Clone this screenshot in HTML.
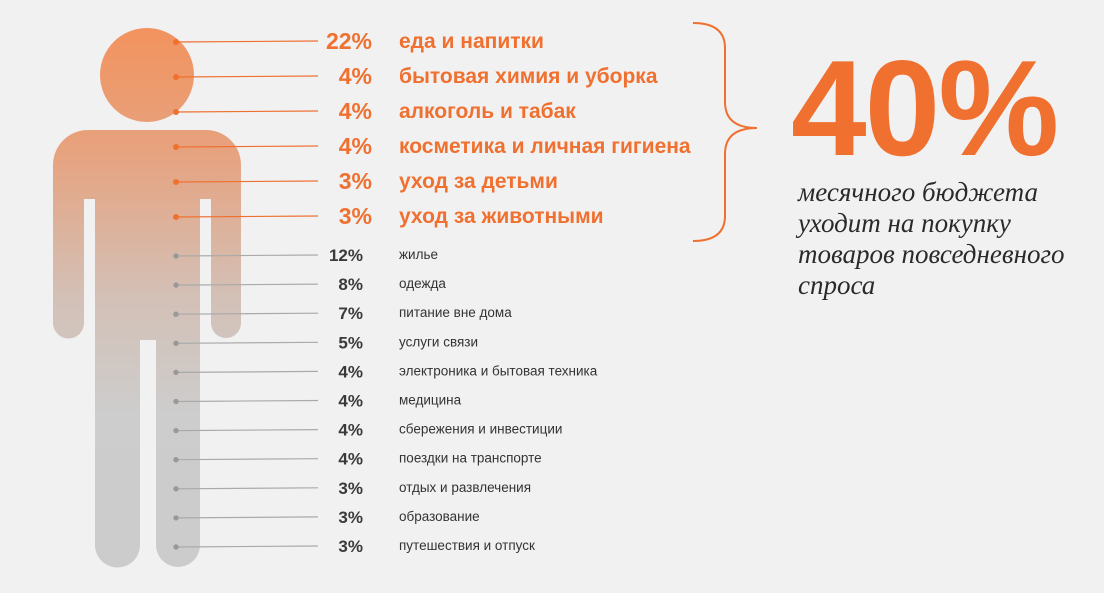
<!DOCTYPE html>
<html><head><meta charset="utf-8"><style>
html,body{margin:0;padding:0;background:#f1f1f1;width:1104px;height:593px;overflow:hidden}
svg{display:block}
</style></head><body>
<svg id="chart" width="1104" height="593" viewBox="0 0 1104 593" xmlns="http://www.w3.org/2000/svg">
<defs>
<linearGradient id="fig" x1="0" y1="0" x2="0" y2="593" gradientUnits="userSpaceOnUse">
<stop offset="0.05" stop-color="#f2935f"/>
<stop offset="0.25" stop-color="#e7a27e"/>
<stop offset="0.5" stop-color="#d3c0b6"/>
<stop offset="0.7" stop-color="#cdcdcd"/>
<stop offset="1" stop-color="#cbcbcb"/>
</linearGradient>
</defs>
<g fill="url(#fig)">
<circle cx="147" cy="75" r="47"/>
<path d="M88,130 H206 A35,35 0 0 1 241,165 V323 A15,15 0 0 1 211,323 V199 H200 V545 A22,22 0 0 1 156,545 V340 H140 V545 A22,22 0 0 1 95,545 V199 H84 V323 A15.5,15.5 0 0 1 53,323 V165 A35,35 0 0 1 88,130 Z"/>
</g>
<g id="rows"></g>
<path d="M693,23 Q725,23 725,48 V102 Q725,128 757,128 Q725,128 725,154 V216 Q725,241 693,241" fill="none" stroke="#f07030" stroke-width="2"/>
<text x="791" y="155" font-family="Liberation Sans, sans-serif" font-weight="bold" font-size="136" letter-spacing="-2" fill="#f07030">40%</text>
<g font-family="Liberation Serif, serif" font-style="italic" font-size="27" fill="#2a2a2a">
<text x="798" y="201">месячного бюджета</text>
<text x="798" y="232">уходит на покупку</text>
<text x="798" y="263">товаров повседневного</text>
<text x="798" y="294">спроса</text>
</g>
</svg>
<script>
const values = [22,4,4,4,3,3,12,8,7,5,4,4,4,4,3,3,3];
const categories = ["еда и напитки","бытовая химия и уборка","алкоголь и табак","косметика и личная гигиена","уход за детьми","уход за животными","жилье","одежда","питание вне дома","услуги связи","электроника и бытовая техника","медицина","сбережения и инвестиции","поездки на транспорте","отдых и развлечения","образование","путешествия и отпуск"];
const highlighted = [true,true,true,true,true,true,false,false,false,false,false,false,false,false,false,false,false];
const NS="http://www.w3.org/2000/svg";
const g=document.getElementById('rows');
function rowY(i){ return i<6 ? 41+i*35 : 255+(i-6)*29.1; }
function mk(t,a){const e=document.createElementNS(NS,t);for(const k in a)e.setAttribute(k,a[k]);g.appendChild(e);return e;}
values.forEach((v,i)=>{
  const y=rowY(i), big=highlighted[i];
  const col=big?'#f07030':'#999999';
  const ln=mk('line',{x1:176,y1:y+1,x2:318,y2:y,stroke:big?'#f07030':'#aaaaaa','stroke-width':1.2});
  
  
  const d=mk('circle',{cx:176,cy:y+1,r:big?3:2.7,fill:col});
  
  
  const p=mk('text',{x:big?372:363,y:y+(big?8:6),'text-anchor':'end','font-family':'Liberation Sans, sans-serif','font-weight':'bold','font-size':big?23:17,fill:big?'#f07030':'#3a3a3a'});
  p.textContent=v+'%';
  
  
  const l=mk('text',{x:399,y:y+(big?7:4),'font-family':'Liberation Sans, sans-serif','font-weight':big?'bold':'normal','font-size':big?21:13.5,fill:big?'#f07030':'#333333'});
  l.textContent=categories[i];
  
  
});
</script>
</body></html>
